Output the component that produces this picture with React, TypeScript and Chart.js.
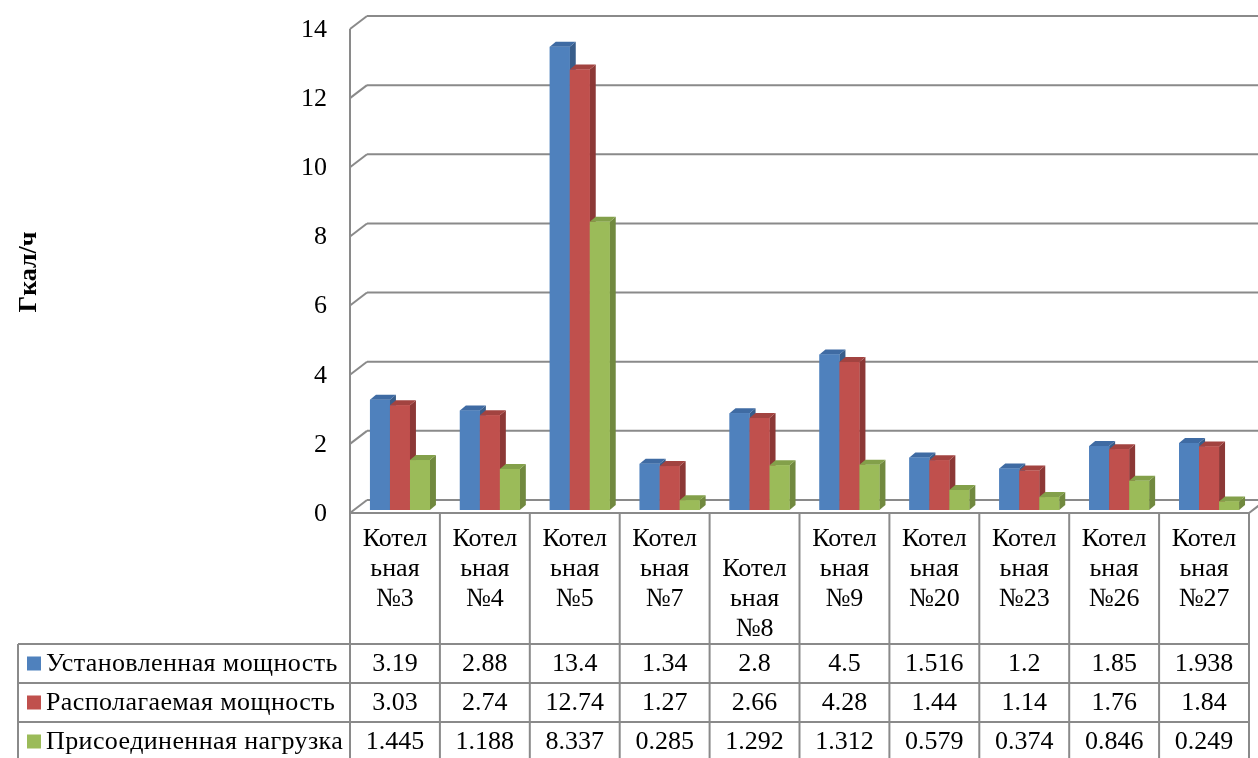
import { useEffect, useRef } from "react";
import { Chart, registerables } from "chart.js";

Chart.register(...registerables);

const categoryLines: string[][] = [
  ["Котел", "ьная", "№3"],
  ["Котел", "ьная", "№4"],
  ["Котел", "ьная", "№5"],
  ["Котел", "ьная", "№7"],
  ["", "Котел", "ьная", "№8"],
  ["Котел", "ьная", "№9"],
  ["Котел", "ьная", "№20"],
  ["Котел", "ьная", "№23"],
  ["Котел", "ьная", "№26"],
  ["Котел", "ьная", "№27"],
];
const categories = categoryLines.map((l) => l.join(""));

const seriesNames = ["Установленная мощность", "Располагаемая мощность", "Присоединенная нагрузка"];
const installed = [3.19, 2.88, 13.4, 1.34, 2.8, 4.5, 1.516, 1.2, 1.85, 1.938];
const available = [3.03, 2.74, 12.74, 1.27, 2.66, 4.28, 1.44, 1.14, 1.76, 1.84];
const connected = [1.445, 1.188, 8.337, 0.285, 1.292, 1.312, 0.579, 0.374, 0.846, 0.249];
const yTicks = [0, 2, 4, 6, 8, 10, 12, 14];
const yTitle = "Гкал/ч";

const frontColors = ["#4F81BD", "#C0504D", "#9BBB59"];
const sideColors = ["#385D8A", "#8C3836", "#71893F"];
const topColors = ["#3F6BA3", "#A24340", "#83A04A"];

const FONT = "'Liberation Serif', 'Times New Roman', serif";
const LINE = "#8a8a8a";
const DX = 6;
const DY = -5;
const WDX = 17;
const WDY = -13;

function line(ctx: CanvasRenderingContext2D, x1: number, y1: number, x2: number, y2: number) {
  ctx.beginPath();
  ctx.moveTo(x1, y1);
  ctx.lineTo(x2, y2);
  ctx.stroke();
}

const chart3d = {
  id: "chart3d",
  beforeDatasetsDraw(chart: any) {
    const ctx: CanvasRenderingContext2D = chart.ctx;
    const ca = chart.chartArea;
    const ys = chart.scales.y;
    const W = chart.width;
    const colW = (ca.right - ca.left) / categories.length;
    const tLeft = ca.left - 5;
    const tRight = tLeft + colW * categories.length;
    const floorY = ys.getPixelForValue(0) + 3;
    ctx.save();
    ctx.strokeStyle = LINE;
    ctx.lineWidth = 2;
    yTicks.forEach((v) => {
      const p = ys.getPixelForValue(v);
      line(ctx, tLeft, p + 3, tLeft + WDX, p + 3 + WDY);
      line(ctx, tLeft + WDX, p + 3 + WDY, W, p + 3 + WDY);
    });
    line(ctx, tLeft, ys.getPixelForValue(14) + 3, tLeft, floorY);
    line(ctx, tLeft, floorY, tRight, floorY);
    line(ctx, tRight, floorY, tRight + WDX, floorY + WDY);
    ctx.fillStyle = "#000";
    ctx.font = `26px ${FONT}`;
    ctx.textAlign = "right";
    ctx.textBaseline = "middle";
    yTicks.forEach((v) => {
      ctx.fillText(String(v), 327, ys.getPixelForValue(v) + 4);
    });
    ctx.save();
    ctx.translate(29, 272);
    ctx.rotate(-Math.PI / 2);
    ctx.textAlign = "center";
    ctx.font = `bold 26px ${FONT}`;
    ctx.fillText(yTitle, 0, 0);
    ctx.restore();

    const rowTops = [644, 683, 722, 761];
    const tableLeft = 18;
    for (let k = 0; k <= categories.length; k++) {
      const x = tLeft + k * colW;
      line(ctx, x, floorY, x, 758);
    }
    rowTops.forEach((y) => line(ctx, tableLeft, y, tRight, y));
    line(ctx, tableLeft, rowTops[0], tableLeft, 758);
    ctx.textAlign = "center";
    ctx.font = `26px ${FONT}`;
    categoryLines.forEach((lines, i) => {
      const cx = tLeft + (i + 0.5) * colW;
      lines.forEach((t, j) => {
        if (t) ctx.fillText(t, cx, 539 + j * 30);
      });
    });
    const seriesData = [installed, available, connected];
    seriesData.forEach((arr, r) => {
      const cy = (rowTops[r] + rowTops[r + 1]) / 2 + 1;
      ctx.fillStyle = frontColors[r];
      ctx.fillRect(27, cy - 8, 14, 14);
      ctx.fillStyle = "#000";
      ctx.textAlign = "left";
      (ctx as any).letterSpacing = "0.4px";
      ctx.fillText(seriesNames[r], 46, cy);
      (ctx as any).letterSpacing = "0px";
      ctx.textAlign = "center";
      arr.forEach((v, i) => {
        ctx.fillText(String(v), tLeft + (i + 0.5) * colW, cy);
      });
    });
    ctx.restore();
  },
  afterDatasetsDraw(chart: any) {
    const ctx: CanvasRenderingContext2D = chart.ctx;
    const metas = [0, 1, 2].map((d) => chart.getDatasetMeta(d));
    ctx.save();
    for (let i = 0; i < categories.length; i++) {
      for (let d = 0; d < 3; d++) {
        const el: any = metas[d].data[i];
        const x0 = el.x - el.width / 2;
        const x1 = el.x + el.width / 2;
        const top = el.y;
        const base = el.base;
        ctx.fillStyle = sideColors[d];
        ctx.beginPath();
        ctx.moveTo(x1, top);
        ctx.lineTo(x1 + DX, top + DY);
        ctx.lineTo(x1 + DX, base + DY);
        ctx.lineTo(x1, base);
        ctx.closePath();
        ctx.fill();
        ctx.fillStyle = topColors[d];
        ctx.beginPath();
        ctx.moveTo(x0, top);
        ctx.lineTo(x0 + DX, top + DY);
        ctx.lineTo(x1 + DX, top + DY);
        ctx.lineTo(x1, top);
        ctx.closePath();
        ctx.fill();
        ctx.fillStyle = frontColors[d];
        ctx.fillRect(x0, top, x1 - x0, base - top);
      }
    }
    ctx.restore();
  },
};

export default function App() {
  const ref = useRef<HTMLCanvasElement>(null);
  useEffect(() => {
    if (!ref.current) return;
    const chart = new Chart(ref.current, {
      type: "bar",
      data: {
        labels: categories,
        datasets: [installed, available, connected].map((arr, d) => ({
          label: seriesNames[d],
          data: arr,
          backgroundColor: frontColors[d],
          borderWidth: 0,
          barPercentage: 1,
          categoryPercentage: 0.667,
        })),
      },
      options: {
        responsive: false,
        animation: false,
        layout: { padding: { left: 355, right: 4, top: 26, bottom: 248 } },
        scales: {
          x: { display: false },
          y: { display: false, min: 0, max: 14 },
        },
        plugins: { legend: { display: false }, tooltip: { enabled: false } },
      },
      plugins: [chart3d],
    });
    let alive = true;
    const fonts: any = (document as any).fonts;
    if (fonts && fonts.load) {
      Promise.all([
        fonts.load(`26px 'Liberation Serif'`, "Котел 0123456789"),
        fonts.load(`bold 26px 'Liberation Serif'`, "Гкал/ч"),
      ])
        .catch(() => null)
        .then(() => {
          if (alive) chart.draw();
        });
    }
    return () => {
      alive = false;
      chart.destroy();
    };
  }, []);
  return (
    <div style={{ position: "absolute", left: 0, top: 0, width: 1258, height: 758, background: "#fff" }}>
      <canvas ref={ref} width={1258} height={758} style={{ display: "block" }} />
    </div>
  );
}
